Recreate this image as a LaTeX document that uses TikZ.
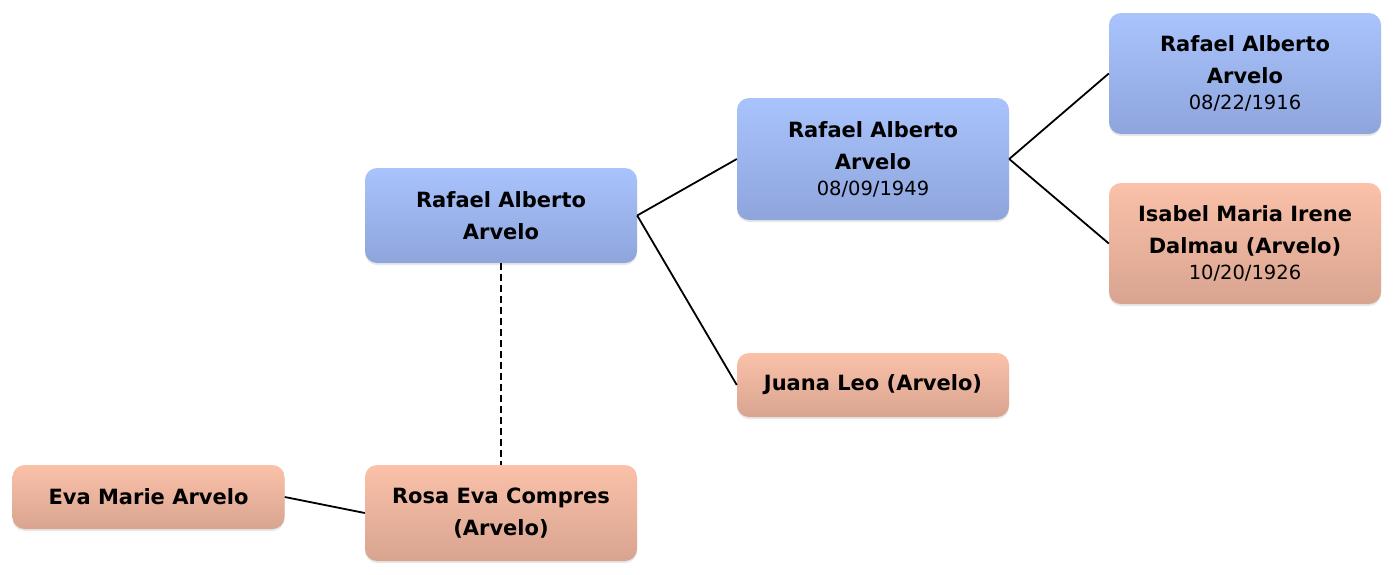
\documentclass[tikz,border=0pt]{standalone}
\usepackage{fontspec}
\setmainfont{DejaVu Sans}
\usetikzlibrary{shadows}
\definecolor{maletop}{HTML}{A9C3FC}
\definecolor{malebot}{HTML}{8EA5DC}
\definecolor{femtop}{HTML}{FBC1A9}
\definecolor{fembot}{HTML}{D8A490}
\newcommand{\borndate}[1]{{\fontsize{19.5}{26}\selectfont\mdseries #1}}
\begin{document}
\begin{tikzpicture}[x=1pt,y=-1pt,
    person/.style={rounded corners=12pt,minimum width=272pt,align=center,
      inner sep=0pt,font=\fontsize{21}{32}\selectfont\bfseries,
      drop shadow={opacity=0.18,shadow xshift=0pt,shadow yshift=-2pt}},
    male/.style={person,top color=maletop,bottom color=malebot},
    female/.style={person,top color=femtop,bottom color=fembot}]
  \useasboundingbox (0,0) rectangle (1393,574);
  \draw
    (501,215.5) node[male,minimum height=95pt] (me){Rafael Alberto\\Arvelo}
    (873,159) node[male,minimum height=122pt] (dad){Rafael Alberto\\Arvelo\\[-6pt]\borndate{08/09/1949}}
    (1245,73.5) node[male,minimum height=121pt] (gdad){Rafael Alberto\\Arvelo\\[-6pt]\borndate{08/22/1916}}
    (1245,243.5) node[female,minimum height=121pt] (gmom){Isabel Maria Irene\\Dalmau (Arvelo)\\[-6pt]\borndate{10/20/1926}}
    (873,385) node[female,minimum height=64pt] (mom){Juana Leo (Arvelo)}
    (501,513) node[female,minimum height=96pt] (wife){Rosa Eva Compres\\(Arvelo)}
    (148.5,497) node[female,minimum height=64pt] (kid){Eva Marie Arvelo};
  \begin{scope}[-,line width=1.8pt]
    \draw (me.east) to (dad.west);
    \draw (me.east) to (mom.west);
    \draw (dad.east) to (gdad.west);
    \draw (dad.east) to (gmom.west);
    \draw (kid.east) to (wife.west);
    \draw[dash pattern=on 7pt off 4pt] (me.south) to (wife.north);
  \end{scope}
\end{tikzpicture}
\end{document}
